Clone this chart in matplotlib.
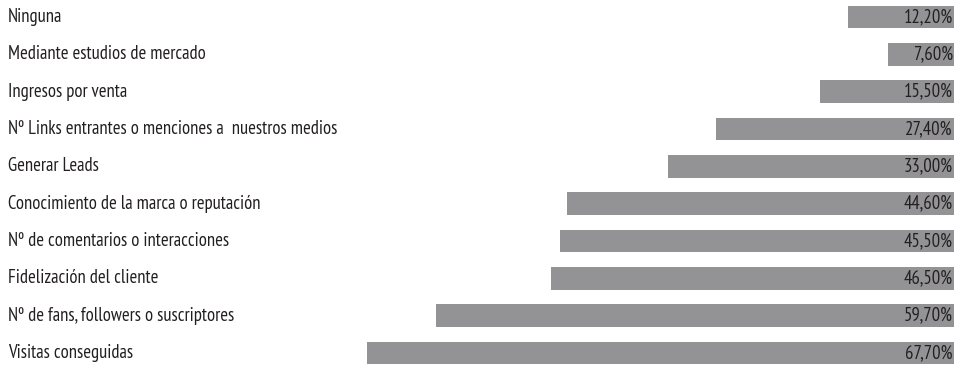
import matplotlib
matplotlib.use("Agg")
import matplotlib.pyplot as plt
from matplotlib import font_manager as fm

categories = [
    "Ninguna",
    "Mediante estudios de mercado",
    "Ingresos por venta",
    "Nº Links entrantes o menciones a  nuestros medios",
    "Generar Leads",
    "Conocimiento de la marca o reputación",
    "Nº de comentarios o interacciones",
    "Fidelización del cliente",
    "Nº de fans, followers o suscriptores",
    "Visitas conseguidas",
]
values = [12.2, 7.6, 15.5, 27.4, 33.0, 44.6, 45.5, 46.5, 59.7, 67.7]
value_labels = ["12,20%", "7,60%", "15,50%", "27,40%", "33,00%",
                "44,60%", "45,50%", "46,50%", "59,70%", "67,70%"]

names = {f.name for f in fm.fontManager.ttflist}
main_font = next((n for n in ["PT Sans Narrow", "Fira Sans Condensed", "Asap Condensed", "Roboto Condensed"] if n in names), "DejaVu Sans")
plt.rcParams["font.family"] = [main_font, "DejaVu Sans"]

W, H = 961, 366
fig = plt.figure(figsize=(W / 100, H / 100), dpi=100)
right_px = 954
ax = fig.add_axes([0, 0, right_px / W, 1])
px_per_unit = 8.67
xmax = right_px / px_per_unit
ax.set_xlim(xmax, 0)
row = 37.33
top_center = 17
ax.set_ylim((H - top_center) / row, -top_center / row)

y = list(range(len(categories)))
ax.barh(y, values, height=0.6, left=0, color="#939396")

# font size chosen so the longest label spans about 329 px, as in the reference
renderer = fig.canvas.get_renderer()
probe = fig.text(0, 0, categories[3], fontsize=10)
w10 = probe.get_window_extent(renderer).width
probe.remove()
fs = 10 * 329 / w10

for i, (cat, lab) in enumerate(zip(categories, value_labels)):
    ax.text(8 / right_px, i, cat, transform=ax.get_yaxis_transform(), ha="left",
            va="center", fontsize=fs, color="#231f20")
    ax.text(0.15, i, lab, ha="right", va="center", fontsize=fs, color="#231f20")

ax.axis("off")
fig.savefig("out.png", dpi=100)
